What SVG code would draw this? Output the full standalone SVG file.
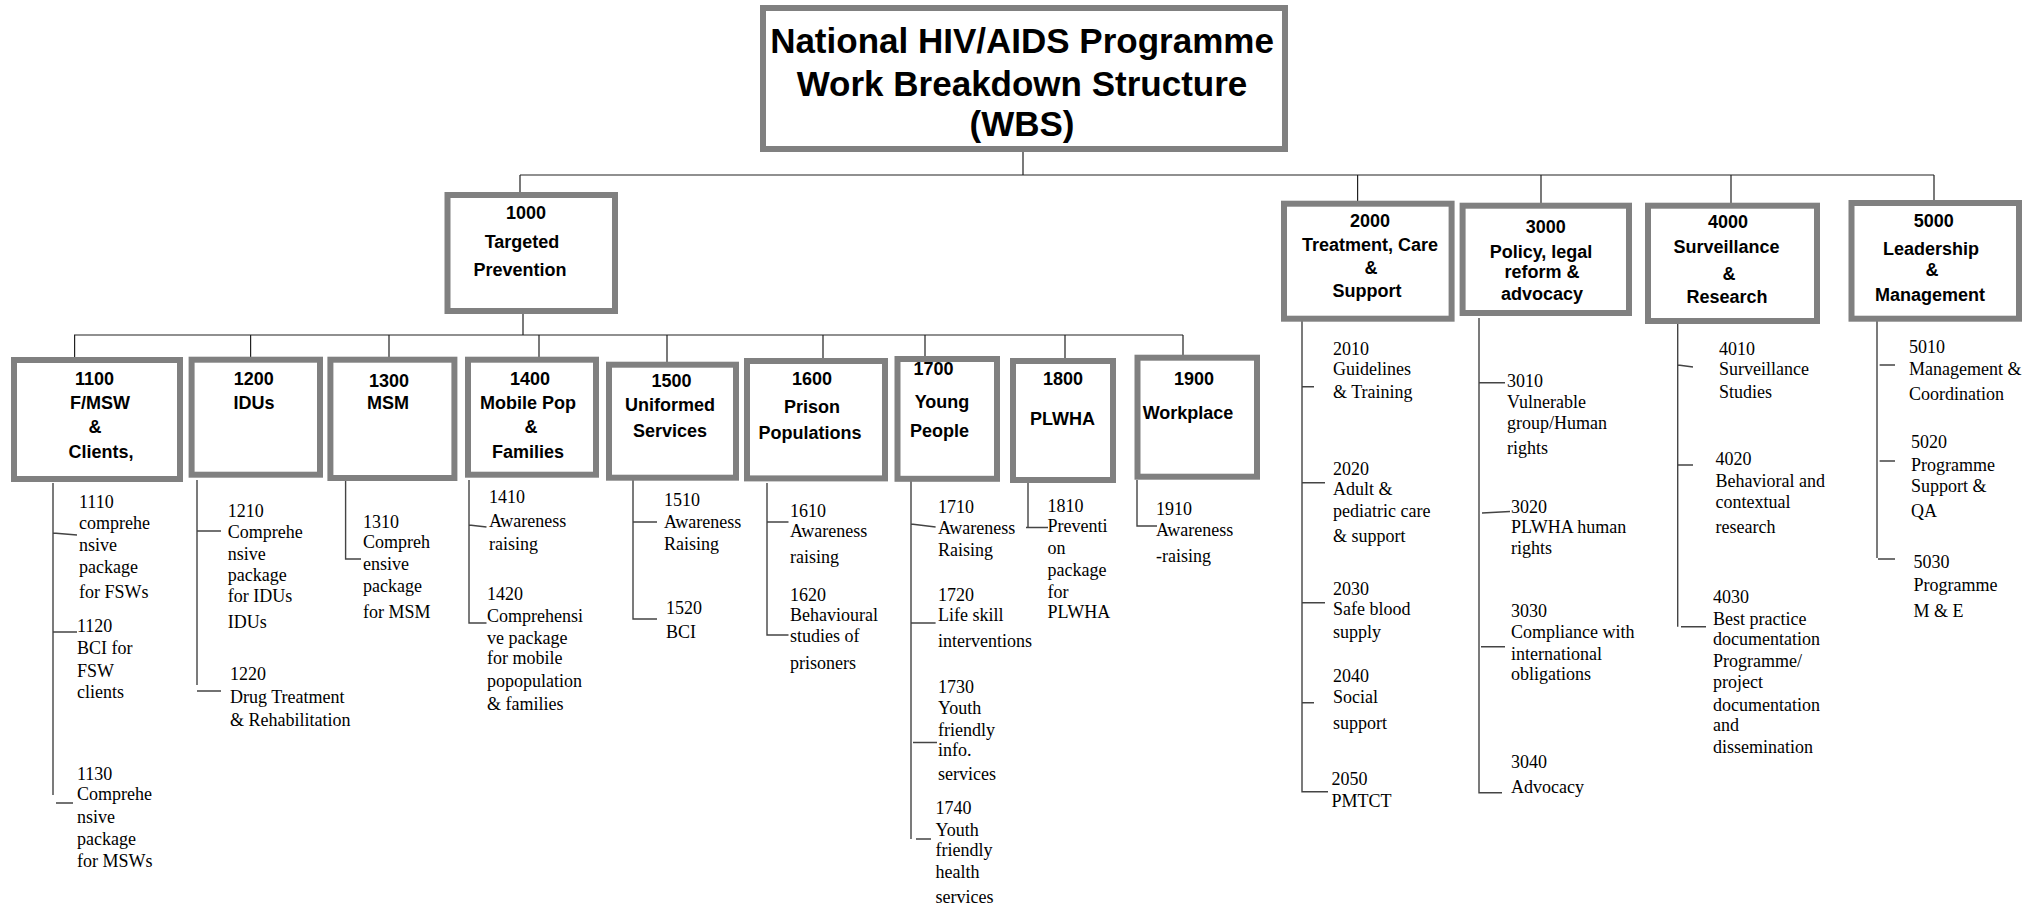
<svg xmlns="http://www.w3.org/2000/svg" width="2042" height="909" viewBox="0 0 2042 909">
<style>
.box{fill:#fff;stroke:#808080;stroke-width:6}
.ttl{font-family:"Liberation Sans",Arial,sans-serif;font-weight:bold;font-size:35px;text-anchor:middle;fill:#000}
.h{font-family:"Liberation Sans",Arial,sans-serif;font-weight:bold;font-size:18px;text-anchor:middle;fill:#000}
.s{font-family:"Liberation Serif","Times New Roman",serif;font-size:18px;fill:#000}
.c{fill:none;stroke:#222;stroke-width:1.2}
.c2{fill:none;stroke:#444;stroke-width:1.4}
</style>
<rect width="2042" height="909" fill="#fff"/>
<g id="connectors">
<path class="c" d="M1023 152V175M520 175H1934M520 175V192M1357.6 175V201M1541 175V203M1731 175V203M1934 175V200"/>
<path class="c" d="M523 314V335M74 335H1183M74.6 335V357M250.6 335V357M389 335V357M539 335V357M667 335V362M823 335V358M925 335V356M1065 335V358M1183 335V355"/>
<path class="c2" d="M53 483V795M53 533L77 535M53 632H77M56 803H73"/>
<path class="c2" d="M197 480V685M197 531H221M197 691H221"/>
<path class="c2" d="M345.6 480V559H361"/>
<path class="c2" d="M469 480V623H486.5M469 525L486.5 527"/>
<path class="c2" d="M633 480V619H657M633 522H657"/>
<path class="c2" d="M767 483V635H788.5M767 522H788.5"/>
<path class="c2" d="M911 481V839M911 524L935.6 527M911 623H935.6M913 742.5H937M916 839H931"/>
<path class="c2" d="M1028 483V527.5M1026 527.5H1048"/>
<path class="c2" d="M1137 480V526H1157"/>
<path class="c2" d="M1302 320V791.7H1328M1302 386.7H1314M1302 482.7H1325M1302 602.7H1325M1302 702.7H1314"/>
<path class="c2" d="M1479 318V792.7H1502M1479 382.7H1505M1482 513L1510 511.5M1481 646.7H1505"/>
<path class="c2" d="M1677.7 324V626.7M1678 365L1693 367M1678 465H1693M1681 626.7H1706"/>
<path class="c2" d="M1877 321V558M1879.6 365H1895M1879.6 461H1895M1878 559H1895"/>
</g>
<g id="n0">
<rect class="box" x="763" y="8" width="522" height="141"/>
<text class="ttl" x="1022" y="53">National HIV/AIDS Programme</text>
<text class="ttl" x="1022" y="96">Work Breakdown Structure</text>
<text class="ttl" x="1022" y="136">(WBS)</text>
</g>
<g id="n1000">
<rect class="box" x="447.5" y="195" width="167.5" height="116"/>
<text class="h" x="526" y="219">1000</text>
<text class="h" x="522" y="248">Targeted</text>
<text class="h" x="520" y="276">Prevention</text>
</g>
<g id="n1100">
<rect class="box" x="14" y="360" width="166" height="119"/>
<text class="h" x="94.5" y="385">1100</text>
<text class="h" x="100" y="409">F/MSW</text>
<text class="h" x="95" y="433">&amp;</text>
<text class="h" x="101" y="458">Clients,</text>
</g>
<g id="n1200">
<rect class="box" x="191.6" y="359.7" width="128.4" height="115"/>
<text class="h" x="253.7" y="385">1200</text>
<text class="h" x="254" y="409">IDUs</text>
</g>
<g id="n1300">
<rect class="box" x="330.4" y="359.7" width="124" height="118.3"/>
<text class="h" x="389" y="387">1300</text>
<text class="h" x="388" y="409">MSM</text>
</g>
<g id="n1400">
<rect class="box" x="468" y="359.7" width="128" height="115"/>
<text class="h" x="530" y="385">1400</text>
<text class="h" x="528" y="409">Mobile Pop</text>
<text class="h" x="531" y="433">&amp;</text>
<text class="h" x="528" y="458">Families</text>
</g>
<g id="n1500">
<rect class="box" x="609" y="364.7" width="127" height="113"/>
<text class="h" x="671.5" y="387">1500</text>
<text class="h" x="670" y="411">Uniformed</text>
<text class="h" x="670" y="437">Services</text>
</g>
<g id="n1600">
<rect class="box" x="747" y="361" width="138" height="117.4"/>
<text class="h" x="812" y="385">1600</text>
<text class="h" x="812" y="413">Prison</text>
<text class="h" x="810" y="439">Populations</text>
</g>
<g id="n1700">
<rect class="box" x="897.5" y="359" width="99.5" height="119.8"/>
<text class="h" x="933.6" y="375">1700</text>
<text class="h" x="942" y="408">Young</text>
<text class="h" x="939.5" y="437">People</text>
</g>
<g id="n1800">
<rect class="box" x="1013" y="361" width="100" height="119"/>
<text class="h" x="1063" y="385">1800</text>
<text class="h" x="1062.5" y="425">PLWHA</text>
</g>
<g id="n1900">
<rect class="box" x="1137.5" y="357.7" width="119.5" height="119"/>
<text class="h" x="1194" y="385">1900</text>
<text class="h" x="1188" y="419">Workplace</text>
</g>
<g id="n2000">
<rect class="box" x="1284" y="203.7" width="167.6" height="115"/>
<text class="h" x="1370" y="226.7">2000</text>
<text class="h" x="1370" y="251">Treatment, Care</text>
<text class="h" x="1371" y="274">&amp;</text>
<text class="h" x="1367" y="296.7">Support</text>
</g>
<g id="n3000">
<rect class="box" x="1462.6" y="205.7" width="166.4" height="107.3"/>
<text class="h" x="1545.7" y="232.7">3000</text>
<text class="h" x="1541" y="258">Policy, legal</text>
<text class="h" x="1542" y="278">reform &amp;</text>
<text class="h" x="1542" y="300">advocacy</text>
</g>
<g id="n4000">
<rect class="box" x="1648" y="205.7" width="169" height="115.3"/>
<text class="h" x="1728" y="228">4000</text>
<text class="h" x="1726.5" y="253">Surveillance</text>
<text class="h" x="1729" y="280">&amp;</text>
<text class="h" x="1727" y="303">Research</text>
</g>
<g id="n5000">
<rect class="box" x="1851.5" y="203" width="167.5" height="115.7"/>
<text class="h" x="1933.7" y="226.7">5000</text>
<text class="h" x="1931" y="255">Leadership</text>
<text class="h" x="1932" y="276">&amp;</text>
<text class="h" x="1930" y="300.7">Management</text>
</g>
<g id="n1110"><text class="s" x="79" y="508">1110</text><text class="s" x="79" y="529">comprehe</text><text class="s" x="79" y="551">nsive</text><text class="s" x="79" y="573">package</text><text class="s" x="79" y="598">for FSWs</text></g>
<g id="n1120"><text class="s" x="77" y="632">1120</text><text class="s" x="77" y="654">BCI for</text><text class="s" x="77" y="677">FSW</text><text class="s" x="77" y="698">clients</text></g>
<g id="n1130"><text class="s" x="77" y="780">1130</text><text class="s" x="77" y="800">Comprehe</text><text class="s" x="77" y="823">nsive</text><text class="s" x="77" y="845">package</text><text class="s" x="77" y="867">for MSWs</text></g>
<g id="n1210"><text class="s" x="227.7" y="517">1210</text><text class="s" x="227.7" y="538">Comprehe</text><text class="s" x="227.7" y="560">nsive</text><text class="s" x="227.7" y="581">package</text><text class="s" x="227.7" y="602">for IDUs</text><text class="s" x="227.7" y="628">IDUs</text></g>
<g id="n1220"><text class="s" x="230" y="680">1220</text><text class="s" x="230" y="703">Drug Treatment</text><text class="s" x="230" y="726">&amp; Rehabilitation</text></g>
<g id="n1310"><text class="s" x="363" y="528">1310</text><text class="s" x="363" y="548">Compreh</text><text class="s" x="363" y="570">ensive</text><text class="s" x="363" y="592">package</text><text class="s" x="363" y="618">for MSM</text></g>
<g id="n1410"><text class="s" x="489" y="503">1410</text><text class="s" x="489" y="527">Awareness</text><text class="s" x="489" y="550">raising</text></g>
<g id="n1420"><text class="s" x="487" y="600">1420</text><text class="s" x="487" y="622">Comprehensi</text><text class="s" x="487" y="644">ve package</text><text class="s" x="487" y="664">for mobile</text><text class="s" x="487" y="687">popopulation</text><text class="s" x="487" y="710">&amp; families</text></g>
<g id="n1510"><text class="s" x="664" y="506">1510</text><text class="s" x="664" y="528">Awareness</text><text class="s" x="664" y="550">Raising</text></g>
<g id="n1520"><text class="s" x="666" y="614">1520</text><text class="s" x="666" y="638">BCI</text></g>
<g id="n1610"><text class="s" x="790" y="516.5">1610</text><text class="s" x="790" y="537">Awareness</text><text class="s" x="790" y="563">raising</text></g>
<g id="n1620"><text class="s" x="790" y="601">1620</text><text class="s" x="790" y="621">Behavioural</text><text class="s" x="790" y="642">studies of</text><text class="s" x="790" y="669">prisoners</text></g>
<g id="n1710"><text class="s" x="938" y="513">1710</text><text class="s" x="938" y="534">Awareness</text><text class="s" x="938" y="556">Raising</text></g>
<g id="n1720"><text class="s" x="938" y="601">1720</text><text class="s" x="938" y="621">Life skill</text><text class="s" x="938" y="646.5">interventions</text></g>
<g id="n1730"><text class="s" x="938" y="692.6">1730</text><text class="s" x="938" y="714">Youth</text><text class="s" x="938" y="735.5">friendly</text><text class="s" x="938" y="756">info.</text><text class="s" x="938" y="780">services</text></g>
<g id="n1740"><text class="s" x="935.6" y="814">1740</text><text class="s" x="935.6" y="836">Youth</text><text class="s" x="935.6" y="856">friendly</text><text class="s" x="935.6" y="878">health</text><text class="s" x="935.6" y="903">services</text></g>
<g id="n1810"><text class="s" x="1047.5" y="511.7">1810</text><text class="s" x="1047.5" y="532">Preventi</text><text class="s" x="1047.5" y="554">on</text><text class="s" x="1047.5" y="576">package</text><text class="s" x="1047.5" y="598">for</text><text class="s" x="1047.5" y="618">PLWHA</text></g>
<g id="n1910"><text class="s" x="1156" y="515">1910</text><text class="s" x="1156" y="536">Awareness</text><text class="s" x="1156" y="561.5">-raising</text></g>
<g id="n2010"><text class="s" x="1333" y="355">2010</text><text class="s" x="1333" y="375">Guidelines</text><text class="s" x="1333" y="398">&amp; Training</text></g>
<g id="n2020"><text class="s" x="1333" y="475">2020</text><text class="s" x="1333" y="495">Adult  &amp;</text><text class="s" x="1333" y="517">pediatric care</text><text class="s" x="1333" y="541.7">&amp; support</text></g>
<g id="n2030"><text class="s" x="1333" y="595">2030</text><text class="s" x="1333" y="615">Safe blood</text><text class="s" x="1333" y="638">supply</text></g>
<g id="n2040"><text class="s" x="1333" y="681.7">2040</text><text class="s" x="1333" y="703">Social</text><text class="s" x="1333" y="729">support</text></g>
<g id="n2050"><text class="s" x="1331.5" y="785">2050</text><text class="s" x="1331.5" y="806.7">PMTCT</text></g>
<g id="n3010"><text class="s" x="1507" y="386.7">3010</text><text class="s" x="1507" y="408">Vulnerable</text><text class="s" x="1507" y="429">group/Human</text><text class="s" x="1507" y="454">rights</text></g>
<g id="n3020"><text class="s" x="1511" y="512.7">3020</text><text class="s" x="1511" y="532.7">PLWHA human</text><text class="s" x="1511" y="554">rights</text></g>
<g id="n3030"><text class="s" x="1511" y="616.7">3030</text><text class="s" x="1511" y="638">Compliance with</text><text class="s" x="1511" y="660">international</text><text class="s" x="1511" y="680">obligations</text></g>
<g id="n3040"><text class="s" x="1511" y="768">3040</text><text class="s" x="1511" y="792.7">Advocacy</text></g>
<g id="n4010"><text class="s" x="1719" y="355">4010</text><text class="s" x="1719" y="375">Surveillance</text><text class="s" x="1719" y="398">Studies</text></g>
<g id="n4020"><text class="s" x="1715.6" y="465">4020</text><text class="s" x="1715.6" y="486.7">Behavioral and</text><text class="s" x="1715.6" y="508">contextual</text><text class="s" x="1715.6" y="532.7">research</text></g>
<g id="n4030"><text class="s" x="1713" y="602.7">4030</text><text class="s" x="1713" y="625">Best practice</text><text class="s" x="1713" y="645">documentation</text><text class="s" x="1713" y="666.7">Programme/</text><text class="s" x="1713" y="688">project</text><text class="s" x="1713" y="710.7">documentation</text><text class="s" x="1713" y="731">and</text><text class="s" x="1713" y="752.7">dissemination</text></g>
<g id="n5010"><text class="s" x="1909" y="352.7">5010</text><text class="s" x="1909" y="375">Management &amp;</text><text class="s" x="1909" y="400">Coordination</text></g>
<g id="n5020"><text class="s" x="1911" y="448">5020</text><text class="s" x="1911" y="470.7">Programme</text><text class="s" x="1911" y="492">Support &amp;</text><text class="s" x="1911" y="516.7">QA</text></g>
<g id="n5030"><text class="s" x="1913.5" y="568">5030</text><text class="s" x="1913.5" y="590.7">Programme</text><text class="s" x="1913.5" y="616.7">M &amp; E</text></g>
</svg>
